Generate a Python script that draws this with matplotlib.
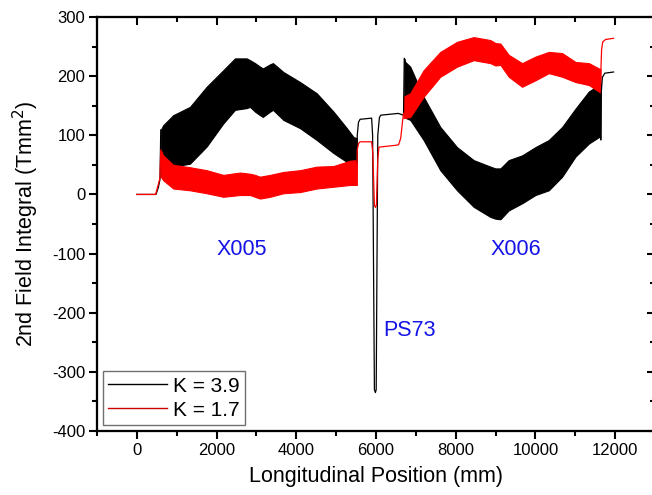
import matplotlib
matplotlib.use("Agg")
import matplotlib.pyplot as plt
from matplotlib.ticker import MultipleLocator
from matplotlib.lines import Line2D

plt.rcParams['font.family'] = ['Liberation Sans', 'DejaVu Sans']
plt.rcParams['axes.unicode_minus'] = False

# ---------------- data ----------------
# K = 3.9 (black): single-valued sections
k39_pre_x = [0, 480, 540, 580, 600]
k39_pre_y = [0, 0, 12, 25, 109]
k39_mid_x = [5519, 5530, 5560, 5600, 5890, 5915, 5960, 5985, 6005, 6045, 6085, 6120, 6558, 6690, 6709]
k39_mid_y = [55, 100, 122, 127, 129, 100, -330, -335, -330, 100, 130, 134, 137, 134, 230]
k39_post_x = [11633, 11640, 11655, 11680, 11740, 11960]
k39_post_y = [97, 92, 175, 198, 205, 207]
# K = 3.9 oscillating bands: envelopes (X005, X006)
k39_b1_x = [600, 661, 913, 1332, 1751, 2168, 2462, 2756, 2839, 2965, 3090, 3160, 3342, 3415, 3676, 4095, 4514, 4933, 5268, 5435, 5519]
k39_b1_hi = [109, 117, 134, 148, 182, 210, 230, 230, 227, 222, 216, 213, 220, 222, 207, 190, 171, 140, 112, 97, 95]
k39_b1_lo = [30, 40, 47, 52, 81, 120, 143, 146, 148, 140, 134, 131, 140, 143, 126, 112, 92, 70, 55, 53, 52]
k39_b2_x = [6709, 6720, 6859, 7194, 7613, 8032, 8450, 8869, 8995, 9121, 9330, 9665, 10000, 10335, 10670, 11005, 11340, 11591, 11633]
k39_b2_hi = [230, 225, 216, 165, 114, 80, 58, 47, 44, 44, 58, 66, 80, 92, 114, 145, 174, 185, 188]
k39_b2_lo = [134, 130, 126, 92, 41, 7, -21, -38, -41, -42, -27, -15, -1, 7, 30, 64, 86, 97, 97]

# K = 1.7 (red): single-valued sections
k17_pre_x = [0, 470, 530, 580, 600]
k17_pre_y = [0, 0, 15, 28, 75]
k17_mid_x = [5519, 5530, 5560, 5600, 5890, 5920, 5960, 5985, 6010, 6045, 6075, 6482, 6566, 6620, 6660, 6690]
k17_mid_y = [37, 75, 86, 89, 89, 70, -18, -22, -18, 60, 80, 83, 84, 95, 120, 137]
k17_post_x = [11633, 11645, 11660, 11690, 11760, 11960]
k17_post_y = [190, 215, 245, 258, 262, 264]
# K = 1.7 oscillating bands: envelopes (X005, X006)
k17_b1_x = [600, 661, 913, 1332, 1751, 2168, 2587, 2839, 2965, 3090, 3342, 3676, 4095, 4514, 4933, 5352, 5519]
k17_b1_hi = [75, 66, 50, 46, 41, 33, 37, 35, 33, 30, 33, 38, 41, 47, 48, 57, 58]
k17_b1_lo = [30, 24, 10, 7, 2, -4, -1, -1, -4, -7, -4, 2, 4, 10, 13, 16, 16]
k17_b2_x = [6690, 6859, 7194, 7613, 8032, 8450, 8869, 8995, 9121, 9330, 9665, 10000, 10335, 10670, 11005, 11340, 11591, 11633]
k17_b2_hi = [165, 171, 210, 241, 258, 266, 261, 256, 255, 236, 222, 233, 241, 239, 224, 222, 213, 212]
k17_b2_lo = [129, 131, 165, 199, 216, 227, 222, 218, 219, 199, 182, 193, 205, 199, 190, 185, 174, 172]

series_labels = ['K = 3.9', 'K = 1.7']
annot_text = ['X005', 'X006', 'PS73']
annot_x = [2636, 9508, 6180]
annot_y = [-93, -93, -230]

XLIM = (-1000, 13000)
YLIM = (-400, 300)

# ---------------- figure ----------------
W, H = 652, 495
fig = plt.figure(figsize=(W / 100, H / 100), dpi=100)
ax = fig.add_axes([97 / W, 1 - 431 / H, (655 - 97) / W, (431 - 17) / H])

lw = 0.9
# black
ax.plot(k39_pre_x, k39_pre_y, color='black', lw=lw)
ax.fill_between(k39_b1_x, k39_b1_lo, k39_b1_hi, color='black', lw=0.8, edgecolor='black')
ax.plot(k39_mid_x, k39_mid_y, color='black', lw=lw)
ax.fill_between(k39_b2_x, k39_b2_lo, k39_b2_hi, color='black', lw=0.8, edgecolor='black')
ax.plot(k39_post_x, k39_post_y, color='black', lw=lw)
# red on top
ax.plot(k17_pre_x, k17_pre_y, color='red', lw=lw)
ax.fill_between(k17_b1_x, k17_b1_lo, k17_b1_hi, color='red', lw=0.8, edgecolor='red')
ax.plot(k17_mid_x, k17_mid_y, color='red', lw=lw)
ax.fill_between(k17_b2_x, k17_b2_lo, k17_b2_hi, color='red', lw=0.8, edgecolor='red')
ax.plot(k17_post_x, k17_post_y, color='red', lw=lw)

for t, x, y in zip(annot_text, annot_x, annot_y):
    ax.text(x, y, t, color='#1414e6', fontsize=15.5,
            ha='left' if t == 'PS73' else 'center', va='center')

ax.set_xlim(*XLIM)
ax.set_ylim(*YLIM)
ax.xaxis.set_major_locator(MultipleLocator(2000))
ax.xaxis.set_minor_locator(MultipleLocator(1000))
ax.yaxis.set_major_locator(MultipleLocator(100))
ax.yaxis.set_minor_locator(MultipleLocator(50))

for s in ax.spines.values():
    s.set_linewidth(1.5)
ax.tick_params(which='both', direction='out', width=1.5, top=False, right=False)
ax.tick_params(which='major', length=6, labelsize=12, pad=2.5)
ax.tick_params(which='minor', length=3.5)

# mirrored ticks on top/right pointing inward
ax_top = ax.twiny()
ax_top.set_xlim(*XLIM)
ax_top.xaxis.set_major_locator(MultipleLocator(2000))
ax_top.xaxis.set_minor_locator(MultipleLocator(1000))
ax_top.tick_params(which='both', direction='in', width=1.5, top=True, bottom=False,
                   labeltop=False, labelbottom=False)
ax_top.tick_params(which='major', length=6)
ax_top.tick_params(which='minor', length=3.5)

ax_right = ax.twinx()
ax_right.set_ylim(*YLIM)
ax_right.yaxis.set_major_locator(MultipleLocator(100))
ax_right.yaxis.set_minor_locator(MultipleLocator(50))
ax_right.tick_params(which='both', direction='in', width=1.5, right=True, left=False,
                     labelright=False, labelleft=False)
ax_right.tick_params(which='major', length=6)
ax_right.tick_params(which='minor', length=3.5)
for a in (ax_top, ax_right):
    for s in a.spines.values():
        s.set_linewidth(1.5)

ax.set_xlabel('Longitudinal Position (mm)', fontsize=15.5, labelpad=6)
ax.set_ylabel('2nd Field Integral (Tmm$^2$)', fontsize=15.5, labelpad=8)

handles = [Line2D([], [], color='black', lw=1.0), Line2D([], [], color='#cc0000', lw=1.0)]
leg = ax_right.legend(handles, series_labels, loc='lower left', bbox_to_anchor=(0.0108, 0.0145),
                      borderaxespad=0, fontsize=15, fancybox=False, framealpha=1,
                      edgecolor='#707070', handlelength=2.8, handletextpad=0.3,
                      labelspacing=0.25, borderpad=0.25)
leg.get_frame().set_linewidth(1.0)

fig.savefig('out.png', dpi=100)
